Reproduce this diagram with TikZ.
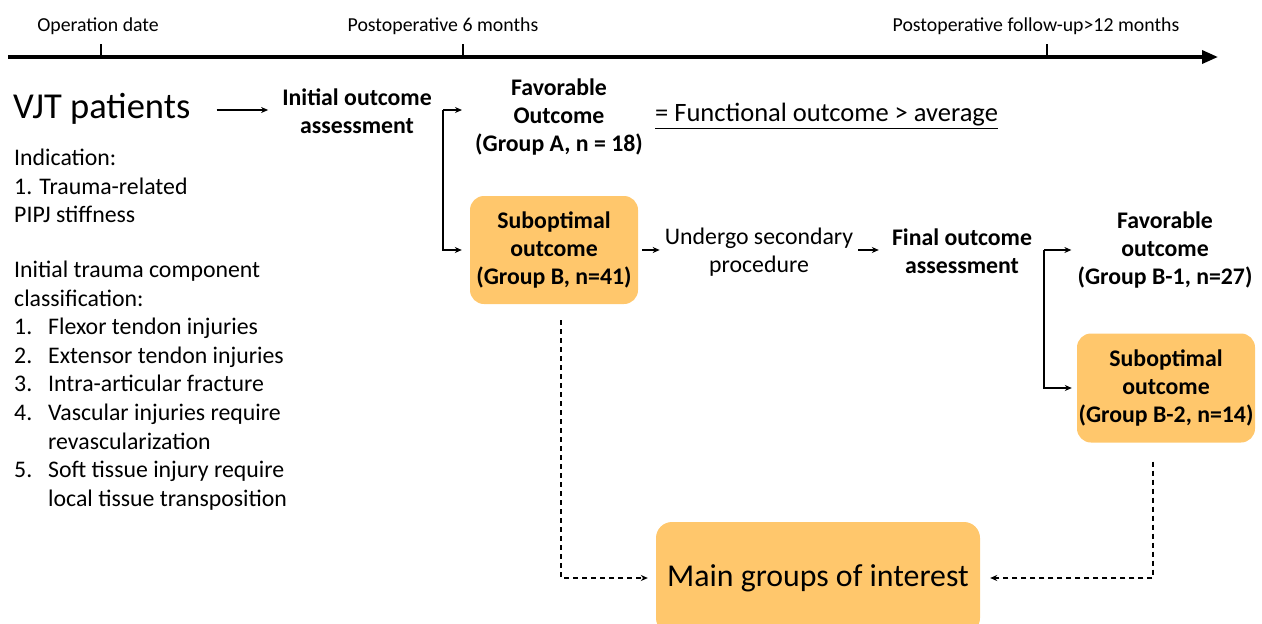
\documentclass[tikz,border=0pt]{standalone}
\usepackage{fontspec}
\setmainfont{Carlito}
\usetikzlibrary{arrows.meta,positioning}
\definecolor{boxorange}{RGB}{255,199,108}

\begin{document}
\begin{tikzpicture}[x=1pt,y=-1pt,
		lbl/.style={font=\fontsize{19.8}{22}\selectfont,inner sep=0pt},
		txt/.style={font=\fontsize{23.8}{28}\selectfont,align=center,inner sep=0pt},
		bold/.style={txt,font=\fontsize{23.8}{28}\selectfont\bfseries},
		block/.style={rectangle,rounded corners=14pt,fill=boxorange,align=center,inner sep=0pt},
		arr/.style={draw,line width=1.4pt,-{Stealth[length=7pt,width=6pt]}},
		dasharr/.style={arr,line width=1.2pt,dash pattern=on 5pt off 4pt}]
		\useasboundingbox (0,0) rectangle (1262,624);

		% time axis
		\coordinate (axstart) at (8,57);
		\coordinate (axend) at (1218,57);
		\draw[line width=3.5pt,-{Triangle[length=16pt,width=13pt]}] (axstart) -- (axend);
		\foreach \x in {101,463,1047}
			\draw[line width=1.6pt] (\x,44) -- (\x,57);
		\node[lbl] (opdate) at (98,26) {Operation date};
		\node[lbl] (sixmo) at (443,26) {Postoperative 6 months};
		\node[lbl] (twelvemo) at (1036,26) {Postoperative follow-up>12 months};

		% left column
		\node[anchor=west,inner sep=0pt,font=\fontsize{36.5}{40}\selectfont] (vjt) at (13,109) {VJT patients};
		\node[anchor=north west,inner sep=0pt,align=left,font=\fontsize{23.8}{28.6}\selectfont] (indic) at (14,149) {%
			Indication:\\
			1. Trauma-related\\
			PIPJ stiffness\\[26pt]
			Initial trauma component\\
			classification:\\
			\makebox[34pt][l]{1.}Flexor tendon injuries\\
			\makebox[34pt][l]{2.}Extensor tendon injuries\\
			\makebox[34pt][l]{3.}Intra-articular fracture\\
			\makebox[34pt][l]{4.}Vascular injuries require\\
			\hspace*{34pt}revascularization\\
			\makebox[34pt][l]{5.}Soft tissue injury require\\
			\hspace*{34pt}local tissue transposition};

		% first assessment
		\node[bold] (init) at (357,111) {Initial outcome\\assessment};
		\node[bold] (favA) at (559,117) {Favorable\\Outcome\\(Group A, n = 18)};
		\node[txt,font=\fontsize{26.5}{28}\selectfont,anchor=west] (functional) at (655,116) {\underline{= Functional outcome > average}};
		\node[block,bold,minimum width=168pt,minimum height=108pt] (subB) at (554,250) {Suboptimal\\outcome\\(Group B, n=41)};
		\node[txt] (undergo) at (759,252) {Undergo secondary\\procedure};
		\node[bold] (final) at (962,251) {Final outcome\\assessment};

		% second assessment
		\node[bold] (favB1) at (1165,250) {Favorable\\outcome\\(Group B-1, n=27)};
		\node[block,bold,minimum width=178pt,minimum height=109pt] (subB2) at (1166,388) {Suboptimal\\outcome\\(Group B-2, n=14)};
		\node[block,rounded corners=16pt,minimum width=324pt,minimum height=112pt,font=\fontsize{31.8}{36}\selectfont] (main) at (818,578) {Main groups of interest};

		\coordinate (forkA) at (443,110);
		\coordinate (forkB) at (1044,250);

		\draw[arr] ([xshift=26pt]vjt.east |- forkA) -- ([xshift=-14pt]init.west |- forkA);
		\draw[arr,shorten >=13pt] (forkA) -- (forkA -| favA.west);
		\draw[arr,shorten >=8pt] (forkA) |- (subB.west);
		\draw[arr,shorten <=4pt,shorten >=5pt] (subB) -- (undergo.west |- subB);
		\draw[arr,shorten <=5pt,shorten >=13pt] (undergo.east |- subB) -- (final.west |- subB);
		\draw[arr,shorten >=6pt] (forkB) -- (forkB -| favB1.west);
		\draw[arr,shorten >=5pt] (forkB) |- (subB2.west);

		\draw[dasharr] ([xshift=7pt,yshift=-16pt]subB.south) |- ([xshift=-8pt]main.west);
		\draw[dasharr] ([xshift=-13pt,yshift=-19pt]subB2.south) |- ([xshift=10pt]main.east);
	\end{tikzpicture}
\end{document}
